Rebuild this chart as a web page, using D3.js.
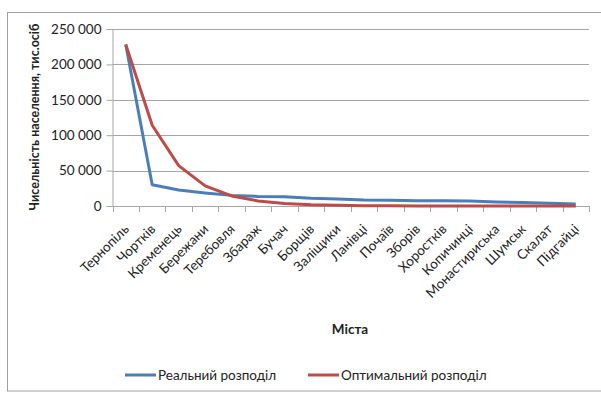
<!DOCTYPE html>
<html><head><meta charset="utf-8">
<script src="https://cdn.jsdelivr.net/npm/d3@7"></script>
<style>body{margin:0;background:#fff}svg{display:block}text{font-family:Lato,"Open Sans",sans-serif;fill:#222}</style>
</head><body><svg id="c" width="601" height="397"></svg>
<script>
const cities = ["Тернопіль","Чортків","Кременець","Бережани","Теребовля","Збараж","Бучач","Борщів","Заліщики","Ланівці","Почаїв","Зборів","Хоростків","Копичинці","Монастириська","Шумськ","Скалат","Підгайці"];
const realValues = [228000,30000,22500,18500,15000,13500,13000,11000,10000,8500,8000,7500,7500,7000,5800,5000,3800,3000];
const optimalValues = [228000,114000,57000,28500,14250,7125,3560,1780,890,445,220,110,55,30,15,7,4,2];
const yTicks = [0,50000,100000,150000,200000,250000];
const seriesNames = ["Реальний розподіл","Оптимальний розподіл"];
const colors = ["#4a7ebb","#be4b48"];

const svg = d3.select("#c");
const L=112.5, R=589, T=29, B=206;
svg.append("rect").attr("x",7.5).attr("y",12.5).attr("width",620).attr("height",378.5)
  .attr("fill","none").attr("stroke","#a0a0a0").attr("stroke-width",1);

const x = d3.scaleBand().domain(cities).range([L,R]);
const y = d3.scaleLinear().domain([0,250000]).range([B,T]);
const fmt = v => d3.format(",")(v).replace(/,/g," ");

// grid
svg.append("g").selectAll("line").data(yTicks.filter(d=>d>0)).join("line")
  .attr("x1",L).attr("x2",R).attr("y1",d=>Math.round(y(d))+0.5).attr("y2",d=>Math.round(y(d))+0.5)
  .attr("stroke","#a6a6a6").attr("stroke-width",1);

// y axis
const ya = svg.append("g").attr("transform",`translate(${L},0)`)
  .call(d3.axisLeft(y).tickValues(yTicks).tickFormat(fmt).tickSize(6).tickPadding(5));
ya.select(".domain").attr("stroke","#a6a6a6");
ya.selectAll(".tick line").attr("stroke","#a6a6a6");
ya.selectAll("text").attr("font-size",13.5).attr("fill","#222").style("font-family","Lato");

// x axis
const xa = svg.append("g").attr("transform",`translate(0,${B})`)
  .call(d3.axisBottom(x).tickSize(0).tickFormat(""));
xa.select(".domain").attr("stroke","#a6a6a6");
const edges = cities.map((c)=>x(c)).concat([R]);
svg.append("g").selectAll("line").data(edges).join("line")
  .attr("x1",d=>Math.round(d)+0.5).attr("x2",d=>Math.round(d)+0.5).attr("y1",B).attr("y2",B+6)
  .attr("stroke","#a6a6a6");
svg.append("g").selectAll("text").data(cities).join("text")
  .attr("transform",d=>`translate(${x(d)+x.bandwidth()/2+4},${B+24}) rotate(-45)`)
  .attr("text-anchor","end").attr("font-size",13.5).text(d=>d);

// lines
const line = d3.line().x((d,i)=>x(cities[i])+x.bandwidth()/2).y(d=>y(d));
[realValues,optimalValues].forEach((vals,k)=>{
  svg.append("path").datum(vals).attr("d",line).attr("fill","none")
    .attr("stroke",colors[k]).attr("stroke-width",3).attr("stroke-linejoin","round");
});

// titles
svg.append("text").attr("transform",`translate(39,117) rotate(-90)`).attr("text-anchor","middle")
  .attr("font-size",12.5).attr("font-weight","bold").text("Чисельність населення, тис.осіб");
svg.append("text").attr("x",350).attr("y",334).attr("text-anchor","middle")
  .attr("font-size",13.5).attr("font-weight","bold").text("Міста");

// legend
const lx=[125,308];
seriesNames.forEach((n,k)=>{
  svg.append("line").attr("x1",lx[k]).attr("x2",lx[k]+31).attr("y1",375).attr("y2",375)
    .attr("stroke",colors[k]).attr("stroke-width",3);
  svg.append("text").attr("x",lx[k]+33).attr("y",380).attr("font-size",13.5).text(n);
});
</script></body></html>
